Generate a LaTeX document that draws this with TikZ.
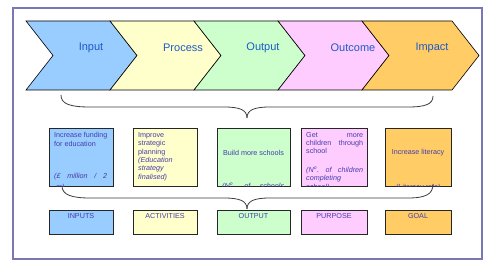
\documentclass[tikz,border=0pt]{standalone}
\usepackage{fontspec}
\setmainfont{Liberation Sans}
\definecolor{cblue}{RGB}{153,204,255}
\definecolor{cyellow}{RGB}{255,255,204}
\definecolor{cgreen}{RGB}{204,255,204}
\definecolor{cpink}{RGB}{255,204,255}
\definecolor{corange}{RGB}{255,204,102}
\definecolor{labblue}{RGB}{30,90,200}
\definecolor{txtblue}{RGB}{70,60,170}
\definecolor{framecol}{RGB}{120,120,180}
\definecolor{bracecol}{RGB}{60,60,60}
\begin{document}
\begin{tikzpicture}[x=1pt,y=-1pt,
  chev/.style={draw=black,line width=0.6pt,line join=miter},
  chevlab/.style={text=labblue,font=\fontsize{11}{13}\selectfont,inner sep=0pt},
  mbox/.style={draw=black!85,line width=0.8pt,inner sep=0pt,minimum height=58.5pt},
  lbox/.style={draw=black!85,line width=0.8pt,inner sep=0pt,minimum height=24pt},
  btxt/.style={text=txtblue,font=\fontsize{7.2}{8.3}\selectfont,inner sep=0pt,align=left},
  llab/.style={text=txtblue,font=\fontsize{7.2}{8}\selectfont,inner sep=0pt,anchor=north},
  brace/.style={draw=bracecol,line width=0.8pt}]
\useasboundingbox (0,0) rectangle (500,272);
\fill[white] (0,0) rectangle (500,272);
% frame
\draw[framecol,line width=1.2pt] (13,8) rectangle (482,259);
% chevrons
\foreach \L/\W/\col/\lab/\lx [count=\i] in
  {26/84/cblue/Input/91, 110/84/cyellow/Process/183, 194/84/cgreen/Output/263,
   278/84/cpink/Outcome/353, 362/90/corange/Impact/432}{
  \draw[chev,fill=\col] (\L,21) -- ++(\W,0) -- ++(27,34.5) -- ++(-27,34.5)
     -- ++(-\W,0) -- ++(27,-34.5) -- cycle;
  \node[chevlab] (c\i) at (\lx,48) {\lab};
}
% upper brace
\coordinate (u1) at (61,95);
\coordinate (ut) at (247,118);
\coordinate (u2) at (433,96);
\draw[brace] (u1) .. controls (61,104) and (70,107) .. (90,107) -- (224,107)
  .. controls (240,107) and (247,110) .. (ut);
\draw[brace] (ut) .. controls (247,110) and (254,107) .. (270,107) -- (408,107)
  .. controls (426,107) and (433,104) .. (u2);
% middle boxes
\node[mbox,fill=cblue,minimum width=64pt] (m1) at (81,157.25) {};
\node[mbox,fill=cyellow,minimum width=64pt] (m2) at (165,157.25) {};
\node[mbox,fill=cgreen,minimum width=73pt] (m3) at (253.5,157.25) {};
\node[mbox,fill=cpink,minimum width=66pt] (m4) at (334,157.25) {};
\node[mbox,fill=corange,minimum width=66pt] (m5) at (418,157.25) {};
% box texts (clipped)
\begin{scope}
\clip (m1.south west) rectangle (m1.north east);
\node[btxt,anchor=north west] (t1a) at (54,132.5) {Increase funding\\for education};
\node[btxt,anchor=north west,text width=53pt,align=justify] (t1b) at (54,173.5)
  {\itshape (£\hfill million\hfill /\hfill 2\\[2pt] \hspace*{2pt}m)};
\end{scope}
\begin{scope}
\clip (m2.south west) rectangle (m2.north east);
\node[btxt,anchor=north west] (t2) at (138,132.5)
  {Improve\\strategic\\planning\\\textit{(Education}\\\textit{strategy}\\\textit{finalised)}};
\end{scope}
\begin{scope}
\clip (m3.south west) rectangle (m3.north east);
\node[btxt] (t3a) at (253.5,153) {Build more schools};
\node[btxt,anchor=north west,text width=62pt] (t3b) at (222,183)
  {\itshape (N\textsuperscript{o}.\hfill of\hfill schools};
\end{scope}
\begin{scope}
\clip (m4.south west) rectangle (m4.north east);
\node[btxt,anchor=north west,text width=57pt] (t4) at (306,132)
  {Get\hfill more\\children\hfill through\\school\\[10.5pt]
   \itshape (N\textsuperscript{o}.\hfill of\hfill children\\completing\\school)};
\end{scope}
\begin{scope}
\clip (m5.south west) rectangle (m5.north east);
\node[btxt] (t5a) at (418,153) {Increase literacy};
\node[btxt] (t5b) at (418,187.5) {\itshape (Literacy rate)};
\end{scope}
% lower brace
\coordinate (l1) at (62,186);
\coordinate (lt) at (247,209);
\coordinate (l2) at (433,184);
\draw[brace] (l1) .. controls (62,195) and (72,198) .. (90,198) -- (224,198)
  .. controls (240,198) and (247,201) .. (lt);
\draw[brace] (lt) .. controls (247,201) and (254,198) .. (270,198) -- (408,198)
  .. controls (426,198) and (433,194) .. (l2);
% bottom boxes
\node[lbox,fill=cblue,minimum width=64pt] (b1) at (81,222) {};
\node[lbox,fill=cyellow,minimum width=64pt] (b2) at (165,222) {};
\node[lbox,fill=cgreen,minimum width=73pt] (b3) at (253.5,222) {};
\node[lbox,fill=cpink,minimum width=66pt] (b4) at (334,222) {};
\node[lbox,fill=corange,minimum width=66pt] (b5) at (418,222) {};
\node[llab] (bl1) at (81,213) {INPUTS};
\node[llab] (bl2) at (165,213) {ACTIVITIES};
\node[llab] (bl3) at (253.5,213) {OUTPUT};
\node[llab] (bl4) at (334,213) {PURPOSE};
\node[llab] (bl5) at (418,213) {GOAL};
\end{tikzpicture}
\end{document}
